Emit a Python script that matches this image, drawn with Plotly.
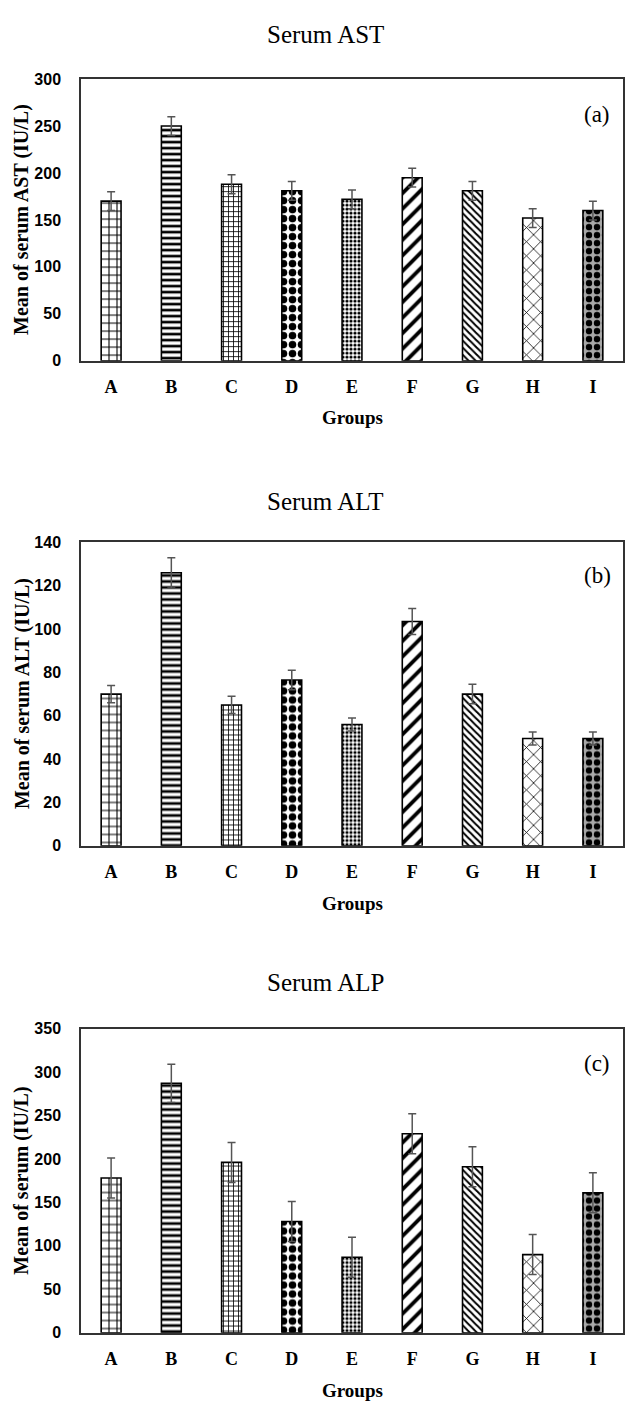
import plotly.graph_objects as go

groups = ["A", "B", "C", "D", "E", "F", "G", "H", "I"]

ast_mean = [170, 250, 188, 181, 172, 195, 181, 152, 160]
ast_err = [10, 10, 10, 10, 10, 10, 10, 10, 10]

alt_mean = [70, 126, 65, 76.5, 56, 103.5, 70, 49.5, 49.5]
alt_err = [4, 7, 4, 4.5, 3, 6, 4.5, 3, 3]

alp_mean = [178, 287, 196, 128, 87, 229, 191, 90, 161]
alp_err = [23, 22, 23, 23, 23, 23, 23, 23, 23]

panel_titles = ["Serum AST", "Serum ALT", "Serum ALP"]
y_titles = ["Mean of serum AST (IU/L)", "Mean of serum ALT (IU/L)", "Mean of serum (IU/L)"]
panel_tags = ["(a)", "(b)", "(c)"]
y_max = [300, 140, 350]
y_step = [50, 20, 50]
x_title = "Groups"

# bar fill patterns (one per group)
pat_shape = ["+", "-", "+", ".", ".", "/", "\\", "x", "."]
pat_size = [8, 6, 5, 9, 4, 11, 5, 10, 8]
pat_solid = [0.25, 0.45, 0.3, 0.55, 0.5, 0.35, 0.4, 0.15, 0.5]
pat_bg = ["white", "white", "white", "white", "white", "white", "white", "white", "#a8a8a8"]

W, H = 627, 1409
# plot areas in pixels (top, bottom)
areas = [(72, 357), (541, 848), (1033, 1341)]
x0, x1 = 81, 623
title_y = [27, 500, 986]
tag_y = [108, 574, 1068]
groups_gap = [58, 58, 58]

SERIF = "Liberation Serif, Times New Roman, serif"
SANS = "Liberation Sans, Arial, sans-serif"

fig = go.Figure()
means = [ast_mean, alt_mean, alp_mean]
errs = [ast_err, alt_err, alp_err]
annotations = []
for i in range(3):
    sfx = "" if i == 0 else str(i + 1)
    fig.add_trace(go.Bar(
        x=groups, y=means[i],
        xaxis="x" + sfx, yaxis="y" + sfx,
        width=0.33,
        marker=dict(
            color="white",
            line=dict(color="black", width=1.6),
            pattern=dict(shape=pat_shape, size=pat_size, solidity=pat_solid,
                         fgcolor="black", bgcolor=pat_bg, fillmode="replace"),
        ),
        error_y=dict(type="data", array=errs[i], color="#555555", thickness=1.5, width=4),
        showlegend=False,
    ))
    top, bot = areas[i]
    ydom = [1 - bot / H, 1 - top / H]
    fig.layout["xaxis" + sfx] = dict(
        domain=[x0 / W, x1 / W], anchor="y" + sfx,
        showline=True, linecolor="#333", linewidth=1.5, mirror=True,
        showgrid=False, ticks="", zeroline=False,
        tickfont=dict(family=SERIF, size=18, color="black", weight="bold"),
        ticklabelstandoff=9,
    )
    fig.layout["yaxis" + sfx] = dict(
        domain=ydom, anchor="x" + sfx, range=[0, y_max[i]], dtick=y_step[i],
        showline=True, linecolor="#333", linewidth=1.5, mirror=True,
        showgrid=False, ticks="", zeroline=False,
        tickfont=dict(family=SANS, size=16, color="black", weight="bold"),
        ticklabelstandoff=15,
    )
    annotations.append(dict(text=panel_titles[i], x=325 / W, y=1 - title_y[i] / H,
                            xref="paper", yref="paper", showarrow=False,
                            xanchor="center", yanchor="middle",
                            font=dict(family=SERIF, size=25, color="black")))
    annotations.append(dict(text=y_titles[i], x=22 / W, y=1 - (top + bot) / 2 / H,
                            xref="paper", yref="paper", showarrow=False, textangle=-90,
                            xanchor="center", yanchor="middle",
                            font=dict(family=SERIF, size=20, color="black", weight="bold")))
    annotations.append(dict(text=panel_tags[i], x=597 / W, y=1 - tag_y[i] / H,
                            xref="paper", yref="paper", showarrow=False,
                            xanchor="center", yanchor="middle",
                            font=dict(family=SERIF, size=23, color="black")))
    annotations.append(dict(text=x_title, x=(x0 + x1) / 2 / W, y=1 - (bot + groups_gap[i]) / H,
                            xref="paper", yref="paper", showarrow=False,
                            xanchor="center", yanchor="middle",
                            font=dict(family=SERIF, size=19, color="black", weight="bold")))

fig.update_layout(
    width=W, height=H,
    margin=dict(l=0, r=0, t=0, b=0),
    paper_bgcolor="white", plot_bgcolor="white",
    bargap=0.67,
    annotations=annotations,
)

fig.write_html("out.html",
               config={"displayModeBar": False},
               post_script="document.body.style.margin='0';document.body.style.padding='0';")
